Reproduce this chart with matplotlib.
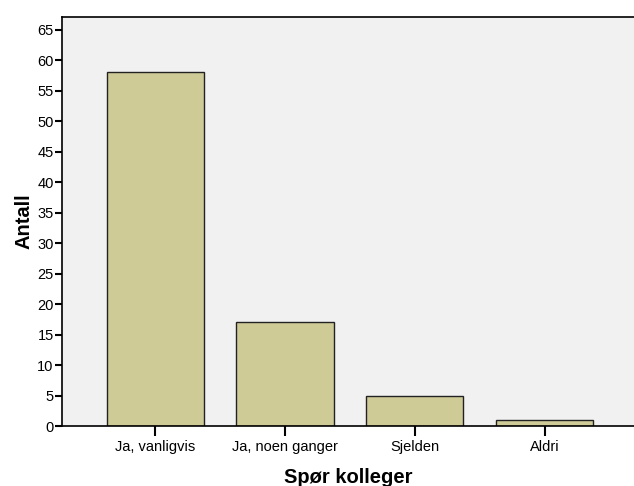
import matplotlib.pyplot as plt

categories = ['Ja, vanligvis', 'Ja, noen ganger', 'Sjelden', 'Aldri']
counts = [58, 17, 5, 1]
yticks = list(range(0, 70, 5))

plt.rcParams['font.family'] = ['Liberation Sans', 'DejaVu Sans']

fig = plt.figure(figsize=(6.34, 4.86), dpi=100)
ax = fig.add_axes([62/634, 60/486, 1 - 62/634, (426-17)/486])
ax.set_facecolor('#f0f1f0')

pos = list(range(len(categories)))
ax.bar(pos, counts, width=0.75, color='#cfcb97', edgecolor='#222222', linewidth=1.0, zorder=2)

ax.set_xlim(-0.72, 3.69)
ax.set_ylim(0, 67.1)
ax.set_xticks(pos)
ax.set_xticklabels(categories, fontsize=10.5)
ax.set_yticks(yticks)
ax.set_yticklabels([str(v) for v in yticks], fontsize=10.5)

ax.spines['right'].set_visible(False)
for s in ['left', 'bottom', 'top']:
    ax.spines[s].set_linewidth(1.2)
    ax.spines[s].set_color('black')
ax.tick_params(axis='y', direction='out', length=5, width=1.5, pad=1)
ax.tick_params(axis='x', direction='out', length=7, width=1.5, pad=3)

ax.set_xlabel('Spør kolleger', fontsize=14.5, fontweight='bold', labelpad=10)
ax.set_ylabel('Antall', fontsize=14.5, fontweight='bold', labelpad=3)

fig.savefig('out.png', dpi=100)
